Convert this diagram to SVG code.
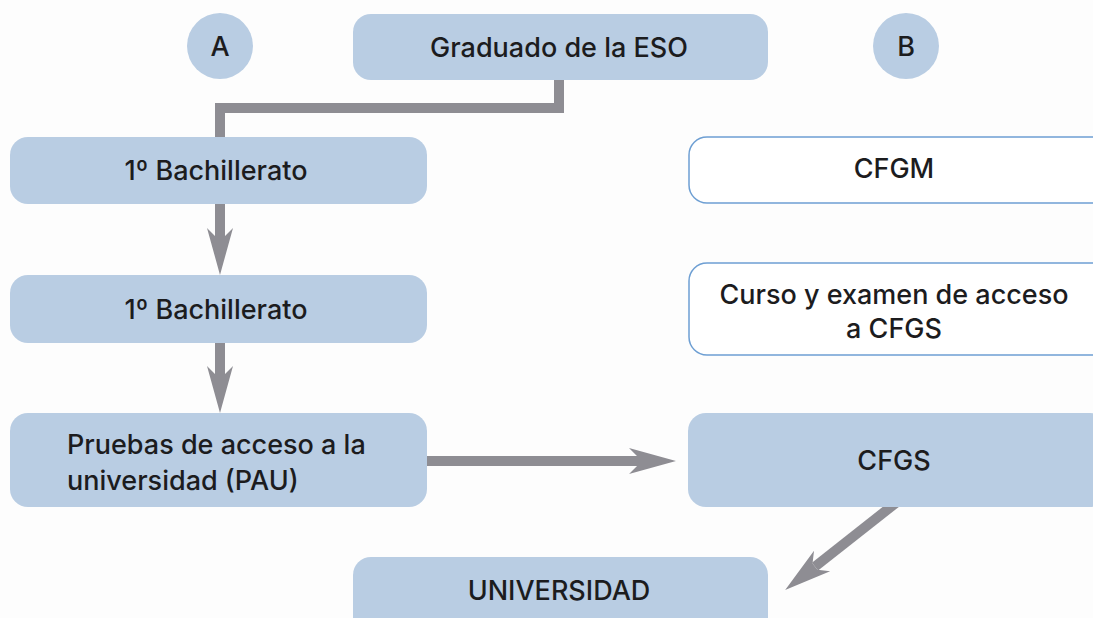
<svg xmlns="http://www.w3.org/2000/svg" width="1093" height="618" viewBox="0 0 1093 618">
<style>
.box{fill:#b9cde3}
.obox{fill:#ffffff;stroke:#6e9fd3;stroke-width:1.5}
.t{font-family:Inter,"Liberation Sans",sans-serif;font-weight:550;font-size:27px;fill:#1c1c1e}
.c{text-anchor:middle}
.conn{stroke:#8e8d93;stroke-width:10;fill:none}
</style>
<defs>
<marker id="ah" markerUnits="userSpaceOnUse" markerWidth="52" markerHeight="32" viewBox="-50 -16 52 32" refX="-38" refY="0" orient="auto">
<path d="M0,0 L-47,-13 L-38,-4 L-38,4 L-47,13 Z" fill="#8e8d93"/>
</marker>
</defs>
<rect width="1093" height="618" fill="#fdfdfd"/>
<g id="connectors">
<path class="conn" d="M559,78 V108 H220 V140"/>
<path class="conn" d="M220,202 V237" marker-end="url(#ah)"/>
<path class="conn" d="M220,341 V375" marker-end="url(#ah)"/>
<path class="conn" d="M425,461 H638" marker-end="url(#ah)"/>
<path class="conn" d="M897,502 L815,566.6" marker-end="url(#ah)"/>
</g>
<g id="circleA"><circle class="box" cx="220" cy="46" r="33"/><text class="t c" x="220" y="56">A</text></g>
<g id="circleB"><circle class="box" cx="906" cy="46" r="33"/><text class="t c" x="906" y="56">B</text></g>
<g id="graduado"><rect class="box" x="353" y="14" width="415" height="66" rx="18"/><text class="t c" x="559" y="57">Graduado de la ESO</text></g>
<g id="bach1"><rect class="box" x="10" y="137" width="417" height="67" rx="18"/><text class="t c" x="216" y="180">1º Bachillerato</text></g>
<g id="bach2"><rect class="box" x="10" y="275" width="417" height="68" rx="18"/><text class="t c" x="216" y="319">1º Bachillerato</text></g>
<g id="pau"><rect class="box" x="10" y="413" width="417" height="94" rx="18"/><text class="t" x="67" y="454">Pruebas de acceso a la</text><text class="t" x="67" y="490">universidad (PAU)</text></g>
<g id="cfgm"><rect class="obox" x="689" y="137" width="420" height="66" rx="18"/><text class="t c" x="894" y="178">CFGM</text></g>
<g id="curso"><rect class="obox" x="689" y="263" width="420" height="92" rx="18"/><text class="t c" x="894" y="304">Curso y examen de acceso</text><text class="t c" x="894" y="338">a CFGS</text></g>
<g id="cfgs"><rect class="box" x="688" y="413" width="420" height="94" rx="18"/><text class="t c" x="894" y="470">CFGS</text></g>
<g id="universidad"><rect class="box" x="353" y="557" width="415" height="80" rx="18"/><text class="t c" x="559" y="600">UNIVERSIDAD</text></g>
</svg>
